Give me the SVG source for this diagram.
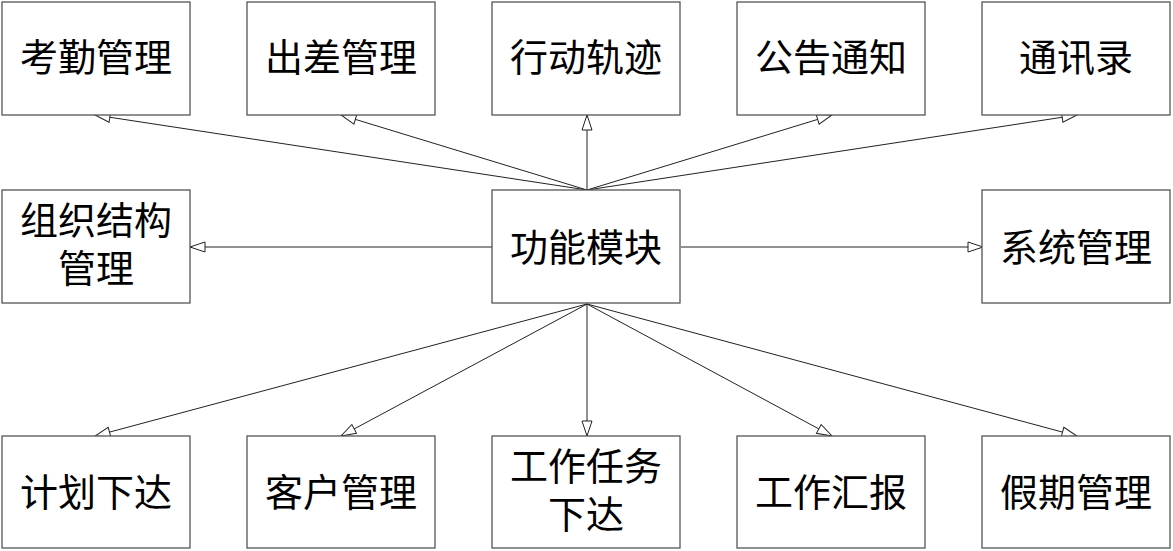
<svg xmlns="http://www.w3.org/2000/svg" width="1173" height="551" viewBox="0 0 1173 551">
<style>
.box{fill:#fff;stroke:#555;stroke-width:1.3}
.t{font-family:"Noto Sans CJK SC","Noto Sans CJK JP",sans-serif;font-size:38px;fill:#000;text-anchor:middle;dominant-baseline:central}
.c{stroke:#222;stroke-width:1;fill:none;marker-end:url(#ah)}
</style>
<defs>
<marker id="ah" markerUnits="userSpaceOnUse" markerWidth="16" markerHeight="12" refX="15" refY="5" orient="auto" overflow="visible">
<path d="M0,0 L15,5 L0,10 Z" fill="#fff" stroke="#222" stroke-width="1"/>
</marker>
</defs>
<g id="connectors">
<line class="c" x1="587" y1="190" x2="95" y2="115"/>
<line class="c" x1="587" y1="190" x2="341" y2="115"/>
<line class="c" x1="587" y1="190" x2="587" y2="115"/>
<line class="c" x1="587" y1="190" x2="832" y2="115"/>
<line class="c" x1="587" y1="190" x2="1077" y2="115"/>
<line class="c" x1="492" y1="247" x2="190" y2="247"/>
<line class="c" x1="681" y1="247" x2="983" y2="247"/>
<line class="c" x1="587" y1="304" x2="95" y2="436"/>
<line class="c" x1="587" y1="304" x2="341" y2="436"/>
<line class="c" x1="587" y1="304" x2="587" y2="436"/>
<line class="c" x1="587" y1="304" x2="832" y2="436"/>
<line class="c" x1="587" y1="304" x2="1077" y2="436"/>
</g>
<g id="n1"><rect class="box" x="2" y="2" width="188" height="113"/><text class="t" x="96" y="54">考勤管理</text></g>
<g id="n2"><rect class="box" x="247" y="2" width="188" height="113"/><text class="t" x="341" y="54">出差管理</text></g>
<g id="n3"><rect class="box" x="492" y="2" width="188" height="113"/><text class="t" x="586" y="54">行动轨迹</text></g>
<g id="n4"><rect class="box" x="737" y="2" width="188" height="113"/><text class="t" x="831" y="54">公告通知</text></g>
<g id="n5"><rect class="box" x="982" y="2" width="188" height="113"/><text class="t" x="1076" y="54">通讯录</text></g>
<g id="n6"><rect class="box" x="2" y="190" width="188" height="113"/><text class="t" x="96" y="217">组织结构</text><text class="t" x="96" y="265">管理</text></g>
<g id="n7"><rect class="box" x="492" y="190" width="188" height="113"/><text class="t" x="586" y="244">功能模块</text></g>
<g id="n8"><rect class="box" x="982" y="190" width="188" height="113"/><text class="t" x="1076" y="244">系统管理</text></g>
<g id="n9"><rect class="box" x="2" y="436" width="188" height="112"/><text class="t" x="96" y="489">计划下达</text></g>
<g id="n10"><rect class="box" x="247" y="436" width="188" height="112"/><text class="t" x="341" y="489">客户管理</text></g>
<g id="n11"><rect class="box" x="492" y="436" width="188" height="112"/><text class="t" x="586" y="463">工作任务</text><text class="t" x="586" y="511">下达</text></g>
<g id="n12"><rect class="box" x="737" y="436" width="188" height="112"/><text class="t" x="831" y="489">工作汇报</text></g>
<g id="n13"><rect class="box" x="982" y="436" width="188" height="112"/><text class="t" x="1076" y="489">假期管理</text></g>
</svg>
